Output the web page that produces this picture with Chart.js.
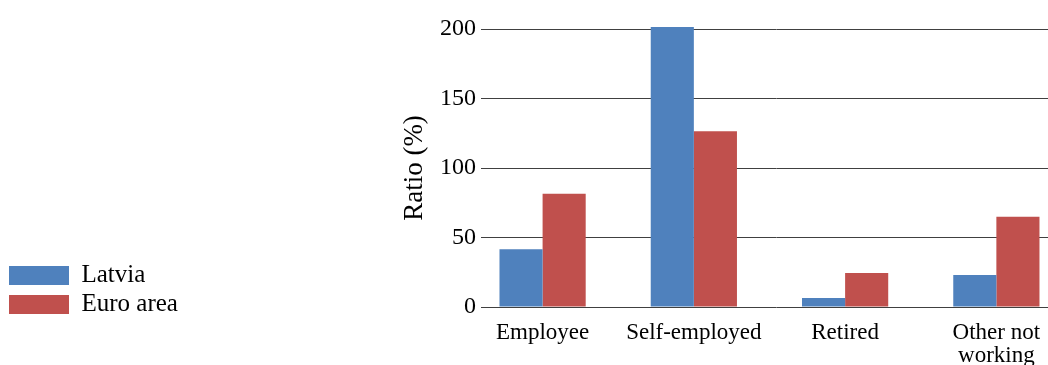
<!DOCTYPE html>
<html lang="en">
<head>
  <meta charset="UTF-8" />
  <title>Ratio by employment status</title>
  <script src="https://cdn.jsdelivr.net/npm/chart.js"></script>
  <style>
    body {
      margin: 0;
      background: #fff;
      overflow: hidden;
    }
    .wrap {
      width: 1048px;
      height: 365px;
      overflow: hidden;
    }
    .box {
      width: 1076px;
      height: 381px;
    }
  </style>
</head>
<body>
  <div class="wrap">
    <div class="box"><canvas id="chart"></canvas></div>
  </div>

  <script>
    const categories = ['Employee', 'Self-employed', 'Retired', ['Other not', 'working']];
    const latvia = [41.5, 201.5, 6.5, 23];
    const euroArea = [81.5, 126.5, 24.5, 65];
    const yTicks = [0, 50, 100, 150, 200];

    const serif = "'Liberation Serif', 'Times New Roman', serif";

    // legend sits a bit lower than the plot bottom, and the categories
    // start a little left of where the grid lines begin
    const tweaks = {
      id: 'tweaks',
      afterLayout(chart) {
        chart.legend.top += 14;
        chart.legend.bottom += 14;
        const x = chart.scales.x;
        x.left -= 14;
        x.width += 14;
        x.configure();
      }
    };

    new Chart(document.getElementById('chart'), {
      type: 'bar',
      data: {
        labels: categories,
        datasets: [
          { label: 'Latvia', data: latvia, backgroundColor: '#4F81BD', clip: false },
          { label: 'Euro area', data: euroArea, backgroundColor: '#C0504D', clip: false }
        ]
      },
      options: {
        responsive: true,
        maintainAspectRatio: false,
        animation: false,
        layout: { padding: { top: 29, right: 4, bottom: 0, left: 5 } },
        datasets: {
          bar: { categoryPercentage: 0.57, barPercentage: 1.0 }
        },
        plugins: {
          legend: {
            position: 'left',
            align: 'end',
            fullSize: false,
            labels: {
              color: '#000',
              font: { family: serif, size: 25 },
              boxWidth: 60,
              boxHeight: 19,
              padding: 4,
              useBorderRadius: false
            }
          },
          tooltip: { enabled: false }
        },
        scales: {
          x: {
            grid: { display: false, drawTicks: false },
            border: { display: false },
            ticks: {
              color: '#000',
              font: { family: serif, size: 23, lineHeight: 1.0 },
              padding: 14,
              maxRotation: 0,
              autoSkip: false
            }
          },
          y: {
            min: 0,
            max: 200,
            afterBuildTicks: (scale) => {
              scale.ticks = yTicks.map(v => ({ value: v }));
            },
            afterFit: (scale) => {
              scale.width = 293;
            },
            grid: { color: '#404040', drawTicks: false },
            border: { display: false },
            ticks: {
              color: '#000',
              font: { family: serif, size: 24 },
              padding: 5
            },
            title: {
              display: true,
              text: 'Ratio (%)',
              color: '#000',
              font: { family: serif, size: 27 },
              padding: { top: 211, bottom: 0 }
            }
          }
        }
      },
      plugins: [tweaks]
    });
  </script>
</body>
</html>
